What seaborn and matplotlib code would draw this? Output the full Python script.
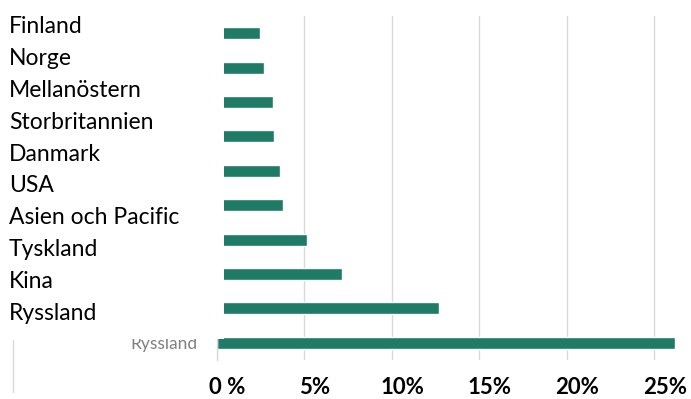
import matplotlib
matplotlib.use("Agg")
import matplotlib.pyplot as plt
import seaborn as sns
import pandas as pd
from matplotlib.patches import Rectangle
from matplotlib.lines import Line2D
import matplotlib.transforms as mtransforms

categories = ["Finland", "Norge", "Mellanöstern", "Storbritannien", "Danmark",
              "USA", "Asien och Pacific", "Tyskland", "Kina", "Ryssland"]
values = [2.45, 2.72, 3.23, 3.25, 3.59, 3.8, 5.15, 7.14, 12.7, 26.2]
xticks = [0, 5, 10, 15, 20, 25]
xtick_labels = ["0 %", "5%", "10%", "15%", "20%", "25%"]

sns.set_theme(style="white")
plt.rcParams['font.family'] = ['Lato', 'DejaVu Sans']

df = pd.DataFrame({"land": categories, "andel": values})

W, H = 691, 399
fig = plt.figure(figsize=(W / 100, H / 100), dpi=100)
ax = fig.add_axes([216.8 / W, 1 - 360 / H, (689.3 - 216.8) / W, (360 - 16) / H])

sns.barplot(data=df, y="land", x="andel", color="#1F7A66", width=0.35,
            saturation=1, ax=ax, orient="h")

ax.set_xlim(0, 27)
ax.set_ylim(len(categories) - 0.5, -0.5)
ax.set_xlabel("")
ax.set_ylabel("")
ax.set_xticks(xticks)
ax.set_xticklabels([])
ax.tick_params(axis="x", length=0)
# only the last category's axis label peeks out below the overlay box
ax.set_yticks(range(len(categories)))
ax.set_yticklabels([""] * (len(categories) - 1) + [categories[-1]])
ax.tick_params(axis="y", length=0, pad=14, labelsize=12.5, labelcolor="#808080")
ax.grid(axis="x", color="#d9d9d9", linewidth=1)
ax.set_axisbelow(True)
for s in ["top", "right", "bottom"]:
    ax.spines[s].set_visible(False)
ax.spines["left"].set_color("#d9d9d9")
ax.spines["left"].set_linewidth(1)

# x tick labels (slightly right of the gridlines, as in the reference)
offset = mtransforms.ScaledTranslation(10.5 / 100, 0, fig.dpi_scale_trans)
tick_tr = mtransforms.blended_transform_factory(ax.transData, fig.transFigure) + offset
for xv, lab in zip(xticks, xtick_labels):
    ax.text(xv, 1 - 394 / H, lab, transform=tick_tr, ha="center", va="baseline",
            fontsize=16, fontweight="bold", color="black", clip_on=False)

# overlay box holding the large labels
fig.patches.append(Rectangle((0, 1 - 339 / H), 224 / W, 339 / H,
                             transform=fig.transFigure, facecolor="white",
                             edgecolor="none", zorder=5))
fig.lines.append(Line2D([13 / W, 13 / W], [1 - 340 / H, 1 - 392 / H],
                        transform=fig.transFigure, color="#d9d9d9", lw=1))

for i, name in enumerate(categories):
    fig.text(9 / W, 1 - (33 + 31.9 * i) / H, name, fontsize=16.5,
             color="black", ha="left", va="baseline", zorder=6)

fig.savefig("out.png", dpi=100)
